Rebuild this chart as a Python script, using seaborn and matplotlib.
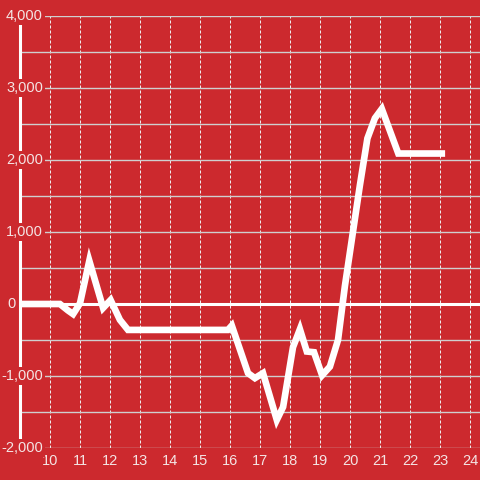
import matplotlib
matplotlib.use("Agg")
import matplotlib.pyplot as plt
import pandas as pd
import seaborn as sns

# values
hours = [9, 10.33, 10.6, 10.77, 11.0, 11.31, 11.77, 12.02, 12.33, 12.6,
         15.93, 16.06, 16.6, 16.83, 17.1, 17.56, 17.77, 18.1, 18.33, 18.56,
         18.8, 19.07, 19.33, 19.6, 19.83, 20.08, 20.33, 20.58, 20.83, 21.06,
         21.61, 23.17]
values = [0, 0, -90, -140, 10, 600, -55, 55, -220, -360,
          -360, -300, -960, -1030, -960, -1610, -1430, -600, -350, -660,
          -670, -990, -870, -500, 250, 950, 1650, 2300, 2580, 2710,
          2090, 2090]
x_ticks = list(range(10, 25))
y_ticks = [-2000, -1000, 0, 1000, 2000, 3000, 4000]
y_minor = [-1500, -500, 500, 1500, 2500, 3500]

bg = "#cc292e"
fg = "#f4e4e4"

sns.set_theme(style="white", rc={"axes.facecolor": bg, "figure.facecolor": bg})
plt.rcParams["font.family"] = ["Liberation Sans", "DejaVu Sans"]

fig = plt.figure(figsize=(4.8, 4.8), dpi=100)
ax = fig.add_axes([20 / 480, 32 / 480, 460 / 480, 432 / 480])

df = pd.DataFrame({"hour": hours, "value": values})
sns.lineplot(data=df, x="hour", y="value", ax=ax, color="white", lw=4.8,
             solid_joinstyle="miter", solid_capstyle="butt", zorder=3)

ax.set_xlim(9, 24.333)
ax.set_ylim(-2000, 4000)
ax.set_xlabel("")
ax.set_ylabel("")

# grid
ax.set_xticks(x_ticks)
ax.set_yticks(y_ticks + y_minor)
ax.grid(axis="y", color="#cfcfcf", lw=1.0, ls="-")
ax.grid(axis="x", color="#eeeeee", lw=0.72, ls=(0, (3, 2)))
ax.axhline(0, color="white", lw=2.2, zorder=2.6)

ax.tick_params(axis="x", length=0, pad=4, labelsize=10.5, labelcolor=fg)
ax.tick_params(axis="y", length=0, labelleft=False)

for s in ["top", "right", "bottom"]:
    ax.spines[s].set_visible(False)
ax.spines["left"].set_color("white")
ax.spines["left"].set_linewidth(2.2)

# y labels with background boxes over the spine
tr = ax.get_yaxis_transform()
for v in y_ticks:
    if v == 0:
        ax.text(-0.0185, v, "0", transform=tr, ha="center", va="center",
                fontsize=10.5, color=fg, zorder=5, clip_on=False)
    else:
        ax.text(0.0497, v, f"{v:,}", transform=tr, ha="right", va="center",
                fontsize=10.5, color=fg, zorder=5, clip_on=False,
                bbox=dict(facecolor=bg, edgecolor="none", pad=1.5))

fig.savefig("out.png", dpi=100, facecolor=bg)
